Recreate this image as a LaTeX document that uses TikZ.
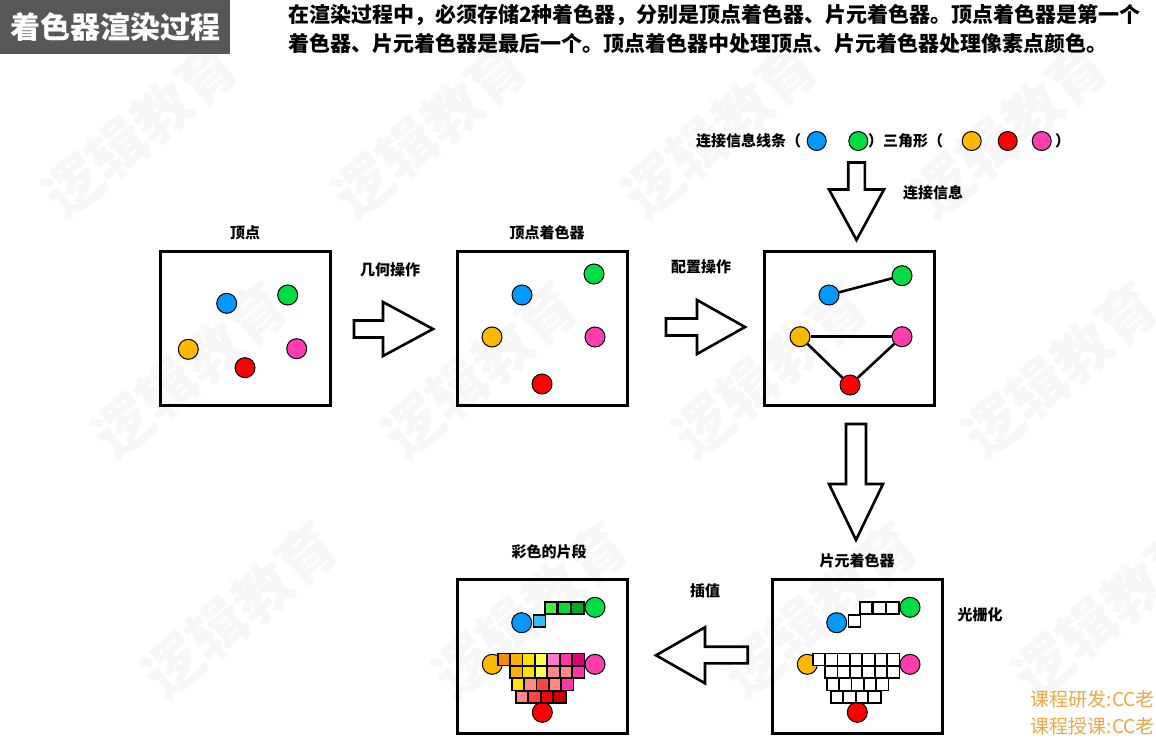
\documentclass[tikz,border=0pt]{standalone}
\usepackage{fontspec}
\setmainfont{Noto Sans CJK SC}
\usetikzlibrary{positioning}
\definecolor{titleGray}{HTML}{575757}
\definecolor{dotBlue}{HTML}{0099FF}
\definecolor{dotGreen}{HTML}{00DD44}
\definecolor{dotOrange}{HTML}{FFB800}
\definecolor{dotRed}{HTML}{FF0000}
\definecolor{dotPink}{HTML}{FF3DAF}
\definecolor{creditOrange}{HTML}{EDA745}
% fragment colours
\definecolor{fBlue}{HTML}{33BBFF}
\definecolor{fGreenA}{HTML}{44EE44}
\definecolor{fGreenB}{HTML}{00DD33}
\definecolor{fGreenC}{HTML}{00AA22}
\definecolor{fOrangeD}{HTML}{FF8800}
\definecolor{fOrange}{HTML}{FFAF00}
\definecolor{fYellow}{HTML}{FFE000}
\definecolor{fYellowL}{HTML}{FFFF55}
\definecolor{fPinkL}{HTML}{FF77CC}
\definecolor{fPink}{HTML}{FF33AA}
\definecolor{fMagenta}{HTML}{DD0077}
\definecolor{fSalmon}{HTML}{FF8888}
\definecolor{fRedL}{HTML}{FF4444}
\definecolor{fRed}{HTML}{FF0000}
\definecolor{fRedD}{HTML}{CC0000}

\begin{document}
\begin{tikzpicture}[
    x=1pt, y=-1pt,
    lab/.style={font=\fontsize{15}{18}\selectfont\bfseries, inner sep=0pt},
    stage/.style={draw, line width=3.4pt, minimum width=170, minimum height=154, inner sep=0pt},
    dot/.style={circle, draw, line width=1pt, fill=#1, minimum size=20, inner sep=0pt},
    link/.style={line width=2.6pt},
    pix/.style={draw, line width=1.6pt, fill=#1, minimum size=12.2, inner sep=0pt},
    blockarr/.style={draw, line width=2.6pt, fill=white, line join=miter},
    wmark/.style={font=\fontsize{58}{58}\selectfont\bfseries, text=black!3, rotate=40},
]
\useasboundingbox (0,0) rectangle (1156,739);

%================= watermark =================%
\foreach \row/\sx in {0/140, 1/190, 2/240}
  \foreach \col in {0,...,3}
    \node[wmark] (wm\row\col) at (\sx+\col*290, 130+\row*240) {逻辑教育};

%================= header =================%
\node[fill=titleGray, text=white, anchor=north west, minimum width=230, minimum height=54,
      font=\fontsize{30}{30}\selectfont\bfseries] (title) at (0,0) {着色器渲染过程};
\node[anchor=north west, align=left, inner sep=0pt, font=\fontsize{21}{29}\selectfont\bfseries]
    (intro) at (288,4)
    {在渲染过程中，必须存储2种着色器，分别是顶点着色器、片元着色器。顶点着色器是第一个\\
     着色器、片元着色器是最后一个。顶点着色器中处理顶点、片元着色器处理像素点颜色。};

%================= stage 1 : vertices =================%
\node[stage] (verts) at (245.5,328.5) {};
\node[lab] (vertsLab) at (245,233) {顶点};
\node[dot=dotBlue]   (v1b) at (226.7,303.3) {};
\node[dot=dotGreen]  (v1g) at (287.7,295)   {};
\node[dot=dotOrange] (v1o) at (188.3,349.3) {};
\node[dot=dotRed]    (v1r) at (245,367.7)   {};
\node[dot=dotPink]   (v1p) at (296.7,348.7) {};

\draw[blockarr] (354,320.5) -- (383,320.5) -- (383,302) -- (433,329)
                -- (383,356) -- (383,337.5) -- (354,337.5) -- cycle;
\node[lab] (geomLab) at (390,270) {几何操作};

%================= stage 2 : vertex shader =================%
\node[stage] (vshader) at (542.5,328.5) {};
\node[lab] (vshaderLab) at (547,233) {顶点着色器};
\node[dot=dotBlue]   (v2b) at (522,295) {};
\node[dot=dotGreen]  (v2g) at (594,274) {};
\node[dot=dotOrange] (v2o) at (492,337) {};
\node[dot=dotPink]   (v2p) at (595,337) {};
\node[dot=dotRed]    (v2r) at (542,384) {};

\draw[blockarr] (666,318.5) -- (697,318.5) -- (697,300) -- (745,327)
                -- (697,354) -- (697,335.5) -- (666,335.5) -- cycle;
\node[lab] (setupLab) at (701,267) {配置操作};

%================= stage 3 : primitive assembly =================%
\node[stage] (prims) at (849.5,328.5) {};
\node[dot=dotBlue]   (v3b) at (829,295)   {};
\node[dot=dotGreen]  (v3g) at (902,275.7) {};
\node[dot=dotOrange] (v3o) at (800,336.7) {};
\node[dot=dotPink]   (v3p) at (902,336.7) {};
\node[dot=dotRed]    (v3r) at (850,385)   {};
\draw[link] (v3b) -- (v3g);
\draw[link] (v3o) -- (v3p);
\draw[link] (v3o) -- (v3r);
\draw[link] (v3r) -- (v3p);

% connectivity legend
\node[lab, anchor=west] (legLine) at (696,141) {连接信息线条（};
\node[dot=dotBlue, minimum size=19]  (legB) at (816.7,141) {};
\node[dot=dotGreen, minimum size=19] (legG) at (858.3,141) {};
\node[lab, anchor=west] (legTri) at (868,141) {）三角形（};
\node[dot=dotOrange, minimum size=19] (legO) at (971.7,141)  {};
\node[dot=dotRed, minimum size=19]    (legR) at (1007.7,141) {};
\node[dot=dotPink, minimum size=19]   (legP) at (1041.7,141) {};
\node[lab, anchor=west] (legEnd) at (1055,141) {）};

\draw[blockarr] (848.2,162.5) -- (864.8,162.5) -- (864.8,189.5) -- (884,189.5)
                -- (856.5,240) -- (829,189.5) -- (848.2,189.5) -- cycle;
\node[lab] (connLab) at (933,193) {连接信息};

\draw[blockarr] (846,424) -- (866,424) -- (866,484) -- (883,484)
                -- (856,540) -- (829,484) -- (846,484) -- cycle;

%================= stage 4 : fragment shader (rasterised) =================%
\node[stage] (fshader) at (857.5,656.5) {};
\node[lab] (fshaderLab) at (857,561) {片元着色器};
\node[lab] (rasterLab) at (980,615) {光栅化};
\node[dot=dotBlue]   (v5b) at (836.7,622.7) {};
\node[dot=dotGreen]  (v5g) at (910,607.3)   {};
\node[dot=dotOrange] (v5o) at (807.3,664.3) {};
\node[dot=dotPink]   (v5p) at (910,664.3)   {};
\node[dot=dotRed]    (v5r) at (857.3,712.3) {};
\node[pix=white] (p5l0) at (854.4,620.8) {};
\foreach \i in {0,1,2}
  \node[pix=white] (p5l\i) at (866+\i*13.3,607.8) {};
\foreach \i in {0,...,6}
  \node[pix=white] (p5a\i) at (818.9+\i*12.4,659.5) {};
\foreach \i in {0,...,5}
  \node[pix=white] (p5b\i) at (831.2+\i*12.4,672.1) {};
\foreach \i in {0,...,4}
  \node[pix=white] (p5c\i) at (832.9+\i*12.4,684.5) {};
\foreach \i in {0,...,3}
  \node[pix=white] (p5d\i) at (836.9+\i*12.6,696.9) {};

\draw[blockarr] (747.7,646.7) -- (705,646.7) -- (705,627.3) -- (656,655.3)
                -- (705,683.3) -- (705,663.3) -- (747.7,663.3) -- cycle;
\node[lab] (interpLab) at (705,591) {插值};

%================= stage 5 : coloured fragments =================%
\node[stage] (frags) at (542.5,656.5) {};
\node[lab] (fragsLab) at (549,552) {彩色的片段};
\node[dot=dotBlue]   (v4b) at (521.7,622.7) {};
\node[dot=dotGreen]  (v4g) at (595,607.3)   {};
\node[dot=dotOrange] (v4o) at (492.3,664.3) {};
\node[dot=dotPink]   (v4p) at (595,664.3)   {};
\node[dot=dotRed]    (v4r) at (542.3,712.3) {};
\node[pix=fBlue] (p4l0) at (539.4,620.8) {};
\foreach \c [count=\i from 0] in {fGreenA,fGreenB,fGreenC}
  \node[pix=\c] (p4l\i) at (551+\i*13.3,607.8) {};
\foreach \c [count=\i from 0] in {fOrangeD,fOrange,fYellow,fYellowL,fPinkL,fPink,fMagenta}
  \node[pix=\c] (p4a\i) at (503.9+\i*12.4,659.5) {};
\foreach \c [count=\i from 0] in {fOrange,fYellow,fYellowL,fSalmon,fSalmon,fPink}
  \node[pix=\c] (p4b\i) at (516.2+\i*12.4,672.1) {};
\foreach \c [count=\i from 0] in {fYellow,fSalmon,fRedL,fSalmon,fPink}
  \node[pix=\c] (p4c\i) at (517.9+\i*12.4,684.5) {};
\foreach \c [count=\i from 0] in {fSalmon,fRedL,fRed,fRedD}
  \node[pix=\c] (p4d\i) at (521.9+\i*12.6,696.9) {};

%================= credits =================%
\node[anchor=east, inner sep=0pt, text=creditOrange, font=\fontsize{19}{19}\selectfont]
    (credit1) at (1155,699) {课程研发:CC老};
\node[anchor=east, inner sep=0pt, text=creditOrange, font=\fontsize{19}{19}\selectfont]
    (credit2) at (1155,726) {课程授课:CC老};

\end{tikzpicture}
\end{document}
